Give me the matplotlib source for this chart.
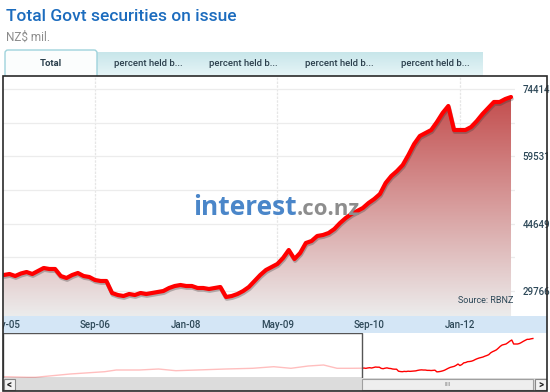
import numpy as np
import pandas as pd
import matplotlib
matplotlib.use("Agg")
import matplotlib.pyplot as plt
import matplotlib.patheffects as pe
from matplotlib.patches import Rectangle, FancyBboxPatch
from matplotlib.colors import LinearSegmentedColormap

plt.rcParams['font.family'] = ['Roboto', 'DejaVu Sans']

# Total Govt securities on issue, NZ$ mil., monthly from May-05
months = pd.period_range('2005-05', periods=90, freq='M')
values = [33308, 33529, 33087, 33640, 33971, 33529, 34192, 34855, 34634, 34634,
          33087, 32645, 33308, 33750, 33087, 32866, 32203, 31982, 31982, 29330,
          28888, 28667, 29109, 28888, 29330, 29109, 29330, 29551, 29772, 30435,
          30877, 31098, 30877, 30877, 30435, 30435, 30214, 30435, 30656, 28446,
          28667, 29109, 29772, 30656, 31982, 33308, 34413, 35076, 35739, 37065,
          38833, 36844, 38170, 40380, 40822, 41927, 42148, 42590, 43474, 44800,
          45905, 46789, 47452, 48115, 49220, 50104, 51209, 53640, 55187, 56292,
          57618, 59828, 62259, 64027, 64690, 65353, 67121, 69110, 70657, 65353,
          65353, 65353, 66016, 67342, 68889, 70215, 71541, 71541, 72204, 72646]

# earlier history shown only in the scroll navigator
hist_months = ['1989-10', '1990-11', '1991-03', '1992-09', '1994-03', '1994-09',
               '1995-09', '1996-07', '1997-04', '1998-03', '1999-06', '2000-08',
               '2001-07', '2002-04', '2003-01', '2003-09', '2004-04', '2004-11']
hist_values = [22044, 21250, 21250, 25621, 28667, 30919, 30919, 32243, 29991,
               30919, 32243, 33170, 35289, 33170, 36216, 37541, 33170, 33170]

tick_months = ['2005-05', '2006-09', '2008-01', '2009-05', '2010-09', '2012-01']
y_major = [29766, 44649, 59531, 74414]
y_minor = [37207, 52090, 66972]
tab_labels = ['Total', 'percent held b...', 'percent held b...',
              'percent held b...', 'percent held b...']


def month_index(p):
    p = pd.Period(p, freq='M')
    return (p.year - 2005) * 12 + p.month - 5


x_main = np.array([month_index(p) for p in months])
x_hist = np.array([month_index(p) for p in hist_months])
x_ticks = [month_index(p) for p in tick_months]
tick_labels = [pd.Period(p, freq='M').strftime('%b-%y') for p in tick_months]

W, H = 550, 392
fig = plt.figure(figsize=(5.5, 3.92), dpi=100)


def box(x0, y0, x1, y1):
    return [x0 / W, 1 - y1 / H, (x1 - x0) / W, (y1 - y0) / H]


# background layer in pixel units: title, tabs
bg = fig.add_axes([0, 0, 1, 1])
bg.set_xlim(0, W)
bg.set_ylim(H, 0)
bg.axis('off')
bg.text(6, 16, 'Total Govt securities on issue', fontsize=12.5, color='#1c6cbe',
        fontweight=500, va='center', ha='left')
bg.text(6, 37, 'NZ$ mil.', fontsize=8.5, color='#8c8c8c', va='center', ha='left')

tab_grad = np.linspace(1, 0, 50).reshape(-1, 1)
tab_cmap = LinearSegmentedColormap.from_list('tab', ['#e6f5f7', '#c8e6ea'])
bg.imshow(tab_grad, extent=[97, 483, 76, 52], cmap=tab_cmap, aspect='auto', zorder=1)
bg.set_xlim(0, W)
bg.set_ylim(H, 0)
bg.add_patch(FancyBboxPatch((5, 50), 92, 28, boxstyle='round,pad=0,rounding_size=3',
                            facecolor='#fbfdfd', edgecolor='#9fd3dc', lw=1, zorder=2))
tab_x = [51, 148, 243, 339, 435]
for i, (tx, lab) in enumerate(zip(tab_x, tab_labels)):
    bg.text(tx, 63, lab, fontsize=6.8, color='#2b3f4c', ha='center', va='center',
            fontweight='bold' if i == 0 else 500, zorder=3)
bg.add_patch(Rectangle((2.5, 76), 544.5, 315, facecolor='white', edgecolor='none', zorder=0.5))

# main chart
ax = fig.add_axes(box(3, 76, 515, 316))
ax.set_facecolor('white')
xlo, xhi = -0.14, 89.7
ylo, yhi = 24247, 77287

poly = ax.fill_between(x_main, values, ylo, facecolor='none', edgecolor='none')
fade = LinearSegmentedColormap.from_list('fade', ['#ececec', '#bf3f3f'])
grad = np.linspace(0, 1, 256).reshape(-1, 1)
img = ax.imshow(grad, extent=[xlo, xhi, ylo, yhi], origin='lower', aspect='auto',
                cmap=fade, zorder=1)
img.set_clip_path(poly.get_paths()[0], transform=ax.transData)

ax.plot(x_main, values, color='#ff0000', lw=3, solid_joinstyle='round',
        solid_capstyle='round', zorder=3,
        path_effects=[pe.SimpleLineShadow(offset=(0.5, -1.3), shadow_color='#333333',
                                          alpha=0.3), pe.Normal()])
ax.set_xlim(xlo, xhi)
ax.set_ylim(ylo, yhi)
ax.set_yticks(y_major)
ax.set_yticks(y_minor, minor=True)
ax.set_yticklabels([str(v) for v in y_major])
ax.yaxis.tick_right()
ax.tick_params(axis='y', which='both', length=0, pad=5.5, labelsize=7,
               labelcolor='#2d4858')
for lab in ax.get_yticklabels():
    lab.set_fontweight(500)
ax.set_xticks([])
ax.grid(axis='y', which='both', color='#ececec', lw=0.9, zorder=0)
ax.set_axisbelow(True)
for xv in x_ticks[1::2]:
    ax.axvline(xv, color='#e6e6e6', lw=0.9, ls=(0, (2, 1)), zorder=0)
for s in ax.spines.values():
    s.set_visible(False)
ax.text(0.996, 0.063, 'Source: RBNZ', transform=ax.transAxes, ha='right', va='center',
        fontsize=6.5, color='#2d4858')

# date band
bx = fig.add_axes(box(3, 316, 547, 333))
bx.set_facecolor('#d4e6f6')
bx.set_xlim(xlo, (547 - 3.8) / 5.70)
bx.set_ylim(0, 1)
bx.set_xticks([])
bx.set_yticks([])
for s in bx.spines.values():
    s.set_visible(False)
for xv, lab in zip(x_ticks, tick_labels):
    bx.text(xv, 0.47, lab, ha='center', va='center', fontsize=7, color='#2d4858',
            fontweight=500, clip_on=True)

# navigator
nx = fig.add_axes(box(3, 333, 547, 378))
nx.set_facecolor('white')
nav_x = np.concatenate([x_hist, x_main])
nav_y = np.concatenate([hist_values, values])
nx.plot(nav_x, nav_y, color='#ff0000', lw=1)
nx.set_xlim((3 - 362) / 1.92, (547 - 362) / 1.92)
nx.set_ylim(20323, 79925)
nx.add_patch(Rectangle((nx.get_xlim()[0], 20323), -nx.get_xlim()[0], 79925 - 20323,
                       facecolor='white', alpha=0.75, edgecolor='none', zorder=3))
nx.add_patch(Rectangle((nx.get_xlim()[0], 20323), -nx.get_xlim()[0], 79925 - 20323 - 600,
                       facecolor='none', edgecolor='#555555', lw=1, zorder=4))
nx.set_xticks([])
nx.set_yticks([])
for s in nx.spines.values():
    s.set_visible(False)

# scrollbar
sx = fig.add_axes(box(3, 378, 547, 391))
sx.set_xlim(3, 547)
sx.set_ylim(0, 1)
sx.set_facecolor('#dcdcdc')
sx.add_patch(Rectangle((362, 0.08), 171, 0.84, facecolor='#eeeeee', edgecolor='#a0a0a0', lw=0.8))
sx.text(448, 0.5, 'IIII', ha='center', va='center', fontsize=4.5, color='#888888')
sx.add_patch(Rectangle((3.5, 0.05), 11, 0.9, facecolor='#f2f2f2', edgecolor='#888888', lw=0.8))
sx.add_patch(Rectangle((535, 0.05), 11.5, 0.9, facecolor='#f2f2f2', edgecolor='#888888', lw=0.8))
sx.text(9, 0.5, '<', ha='center', va='center', fontsize=7, fontweight='bold', color='#222222')
sx.text(541, 0.5, '>', ha='center', va='center', fontsize=7, fontweight='bold', color='#222222')
sx.set_xticks([])
sx.set_yticks([])
for s in sx.spines.values():
    s.set_visible(False)

# frame and watermark
fg = fig.add_axes([0, 0, 1, 1])
fg.set_xlim(0, W)
fg.set_ylim(H, 0)
fg.axis('off')
fg.patch.set_alpha(0)
fg.add_patch(Rectangle((2.5, 76), 544.5, 315, facecolor='none', edgecolor='#2a2a2a', lw=1.2))
fg.text(297, 215, 'interest', ha='right', va='baseline', fontsize=19, fontweight='bold',
        color='#4a86c9', family=['Open Sans', 'DejaVu Sans'])
fg.text(297, 215, '.co.nz', ha='left', va='baseline', fontsize=16, fontweight='bold',
        color='#8d8d8d', family=['Open Sans', 'DejaVu Sans'])

fig.savefig('out.png', dpi=100)
